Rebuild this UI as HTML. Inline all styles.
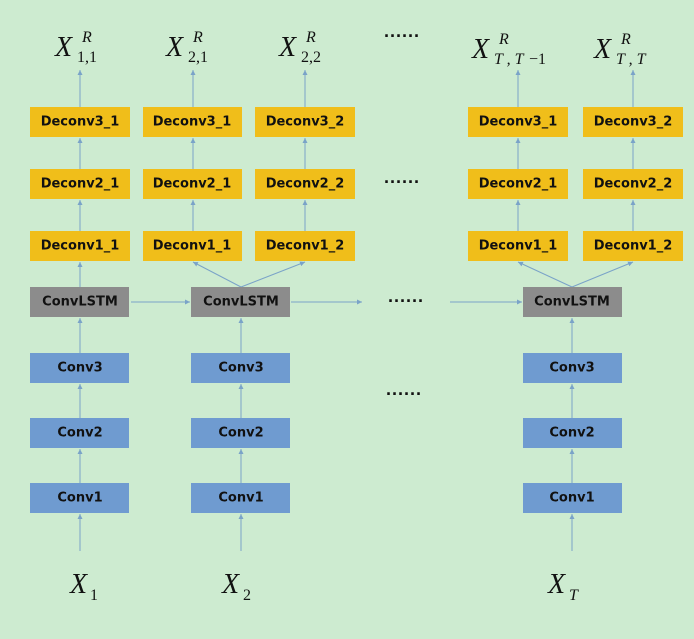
<!DOCTYPE html>
<html><head><style>
body{margin:0;background:#cdebd0;}
svg{display:block}
.b{font-family:"DejaVu Sans","Liberation Sans",sans-serif;font-weight:bold;font-size:13px;fill:#111;text-anchor:middle;dominant-baseline:central}
.m{font-family:"Liberation Serif",serif;font-style:italic;fill:#111}
.s{font-family:"Liberation Serif",serif;fill:#111}
.d{font-family:"Liberation Sans",sans-serif;font-weight:bold;font-size:18px;fill:#111}
</style></head><body>
<svg width="694" height="639" xmlns="http://www.w3.org/2000/svg">
<defs><marker id="a" markerWidth="6" markerHeight="6" refX="5" refY="3" orient="auto"><path d="M0,0.5 L5,3 L0,5.5z" fill="#7aa3c8"/></marker></defs>
<rect width="694" height="639" fill="#cdebd0"/>
<g stroke="#7aa3c8" stroke-width="1" fill="none" marker-end="url(#a)">
<!-- col1 -->
<line x1="80" y1="551" x2="80" y2="514"/><line x1="80" y1="483" x2="80" y2="449"/><line x1="80" y1="418" x2="80" y2="384"/><line x1="80" y1="353" x2="80" y2="318"/>
<line x1="80" y1="287" x2="80" y2="262"/><line x1="80" y1="231" x2="80" y2="200"/><line x1="80" y1="169" x2="80" y2="138"/><line x1="80" y1="107" x2="80" y2="70"/>
<!-- col2 -->
<line x1="241" y1="551" x2="241" y2="514"/><line x1="241" y1="483" x2="241" y2="449"/><line x1="241" y1="418" x2="241" y2="384"/><line x1="241" y1="353" x2="241" y2="318"/>
<line x1="241" y1="287" x2="193" y2="262"/><line x1="241" y1="287" x2="305" y2="262"/>
<line x1="193" y1="231" x2="193" y2="200"/><line x1="193" y1="169" x2="193" y2="138"/><line x1="193" y1="107" x2="193" y2="70"/>
<line x1="305" y1="231" x2="305" y2="200"/><line x1="305" y1="169" x2="305" y2="138"/><line x1="305" y1="107" x2="305" y2="70"/>
<!-- col3 -->
<line x1="572" y1="551" x2="572" y2="514"/><line x1="572" y1="483" x2="572" y2="449"/><line x1="572" y1="418" x2="572" y2="384"/><line x1="572" y1="353" x2="572" y2="318"/>
<line x1="572" y1="287" x2="518" y2="262"/><line x1="572" y1="287" x2="633" y2="262"/>
<line x1="518" y1="231" x2="518" y2="200"/><line x1="518" y1="169" x2="518" y2="138"/><line x1="518" y1="107" x2="518" y2="70"/>
<line x1="633" y1="231" x2="633" y2="200"/><line x1="633" y1="169" x2="633" y2="138"/><line x1="633" y1="107" x2="633" y2="70"/>
<!-- horizontal -->
<line x1="131" y1="302" x2="190" y2="302"/><line x1="291" y1="302" x2="362" y2="302"/><line x1="450" y1="302" x2="522" y2="302"/>
</g>
<g fill="#f0be1a">
<rect x="30" y="107" width="100" height="30"/><rect x="30" y="169" width="100" height="30"/><rect x="30" y="231" width="100" height="30"/>
<rect x="143" y="107" width="99" height="30"/><rect x="143" y="169" width="99" height="30"/><rect x="143" y="231" width="99" height="30"/>
<rect x="255" y="107" width="100" height="30"/><rect x="255" y="169" width="100" height="30"/><rect x="255" y="231" width="100" height="30"/>
<rect x="468" y="107" width="100" height="30"/><rect x="468" y="169" width="100" height="30"/><rect x="468" y="231" width="100" height="30"/>
<rect x="583" y="107" width="100" height="30"/><rect x="583" y="169" width="100" height="30"/><rect x="583" y="231" width="100" height="30"/>
</g>
<g fill="#8c8c8c"><rect x="30" y="287" width="99" height="30"/><rect x="191" y="287" width="99" height="30"/><rect x="523" y="287" width="99" height="30"/></g>
<g fill="#6f9bd0">
<rect x="30" y="353" width="99" height="30"/><rect x="30" y="418" width="99" height="30"/><rect x="30" y="483" width="99" height="30"/>
<rect x="191" y="353" width="99" height="30"/><rect x="191" y="418" width="99" height="30"/><rect x="191" y="483" width="99" height="30"/>
<rect x="523" y="353" width="99" height="30"/><rect x="523" y="418" width="99" height="30"/><rect x="523" y="483" width="99" height="30"/>
</g>
<g class="b">
<text x="80" y="122">Deconv3_1</text><text x="80" y="184">Deconv2_1</text><text x="80" y="246">Deconv1_1</text>
<text x="192" y="122">Deconv3_1</text><text x="192" y="184">Deconv2_1</text><text x="192" y="246">Deconv1_1</text>
<text x="305" y="122">Deconv3_2</text><text x="305" y="184">Deconv2_2</text><text x="305" y="246">Deconv1_2</text>
<text x="518" y="122">Deconv3_1</text><text x="518" y="184">Deconv2_1</text><text x="518" y="246">Deconv1_1</text>
<text x="633" y="122">Deconv3_2</text><text x="633" y="184">Deconv2_2</text><text x="633" y="246">Deconv1_2</text>
<text x="80" y="302">ConvLSTM</text><text x="241" y="302">ConvLSTM</text><text x="572" y="302">ConvLSTM</text>
<text x="80" y="368">Conv3</text><text x="80" y="433">Conv2</text><text x="80" y="498">Conv1</text>
<text x="241" y="368">Conv3</text><text x="241" y="433">Conv2</text><text x="241" y="498">Conv1</text>
<text x="572" y="368">Conv3</text><text x="572" y="433">Conv2</text><text x="572" y="498">Conv1</text>
</g>
<!-- top labels -->
<text class="m" x="55" y="56" font-size="28">X</text><text class="m" x="82" y="42" font-size="16">R</text><text class="s" x="77" y="62" font-size="16">1,1</text>
<text class="m" x="166" y="56" font-size="28">X</text><text class="m" x="193" y="42" font-size="16">R</text><text class="s" x="188" y="62" font-size="16">2,1</text>
<text class="m" x="279" y="56" font-size="28">X</text><text class="m" x="306" y="42" font-size="16">R</text><text class="s" x="301" y="62" font-size="16">2,2</text>
<text class="m" x="472" y="58" font-size="28">X</text><text class="m" x="499" y="44" font-size="16">R</text><text class="m" x="494" y="64" font-size="16">T , T</text><text class="s" x="529" y="64" font-size="16">−1</text>
<text class="m" x="594" y="58" font-size="28">X</text><text class="m" x="621" y="44" font-size="16">R</text><text class="m" x="616" y="64" font-size="16">T , T</text>
<!-- bottom labels -->
<text class="m" x="70" y="593" font-size="28">X</text><text class="s" x="90" y="600" font-size="16">1</text>
<text class="m" x="222" y="593" font-size="28">X</text><text class="s" x="243" y="600" font-size="16">2</text>
<text class="m" x="548" y="593" font-size="28">X</text><text class="m" x="569" y="600" font-size="16">T</text>
<!-- dots -->
<text class="d" x="384" y="42">······</text><text class="d" x="384" y="188">······</text><text class="d" x="388" y="307">······</text><text class="d" x="386" y="400">······</text>
</svg>
</body></html>
